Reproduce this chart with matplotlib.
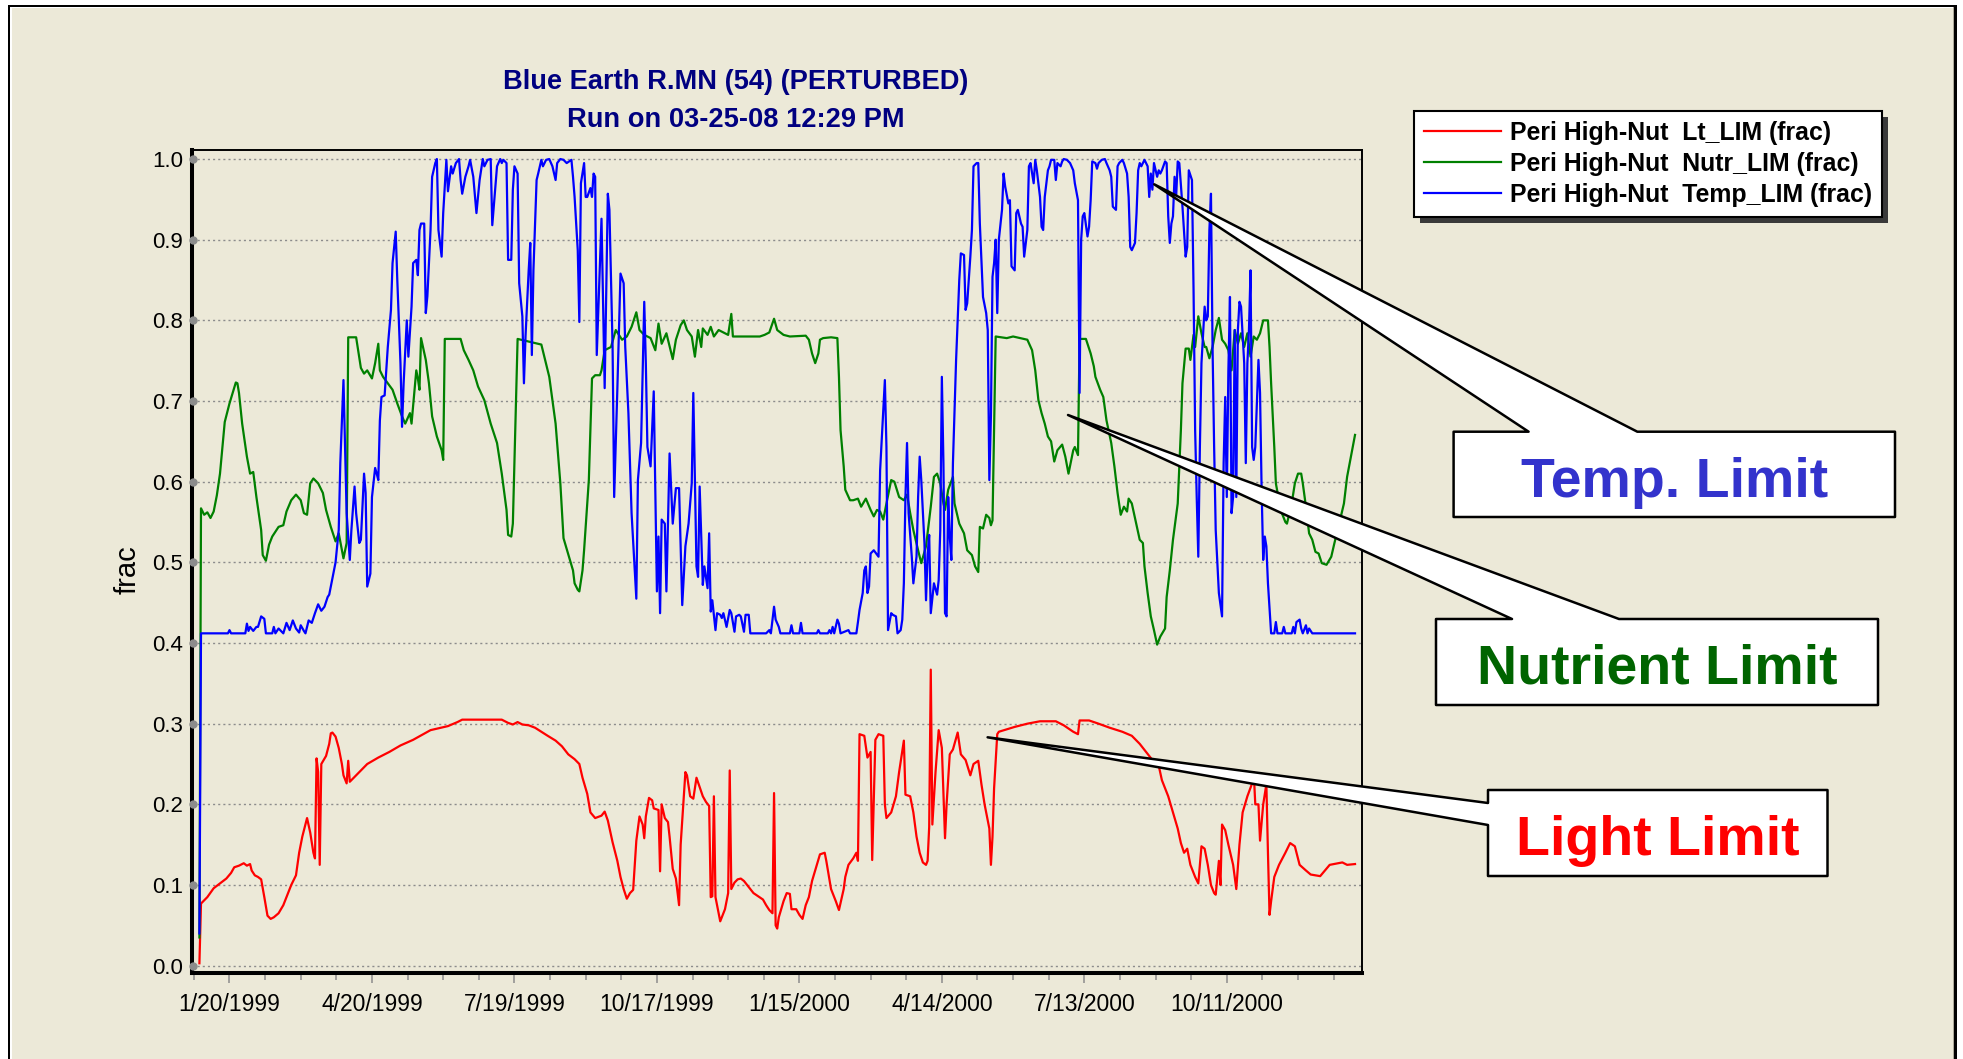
import numpy as np
import matplotlib
matplotlib.use("Agg")
import matplotlib.pyplot as plt
from matplotlib import transforms as mtransforms
from matplotlib.patches import Rectangle, Polygon

# ---------------------------------------------------------------- data
# days counted from 1/1/1999
red_days = [0, 1, 5, 9, 13, 17, 20, 22, 25, 28, 30, 32, 33, 35, 37, 39, 41, 43, 45, 47, 50, 53, 56, 58,
            61, 63, 65, 68, 70, 72, 73, 74, 75, 76, 77, 80, 82, 83, 84, 86, 88, 90, 91, 93, 94, 95, 100,
            106, 113, 120, 127, 135, 146, 157, 163, 166, 191, 195, 198, 201, 204, 208, 212, 216, 220,
            225, 229, 233, 237, 240, 242, 245, 247, 250, 254, 256, 258, 261, 264, 266, 268, 270, 272,
            274, 276, 278, 280, 281, 282, 284, 286, 287, 290, 291, 292, 294, 296, 297, 299, 301, 303,
            304, 307, 308, 310, 312, 314, 318, 320, 322, 323, 324, 325, 326, 329, 332, 334, 335, 336,
            338, 340, 342, 344, 346, 348, 350, 353, 356, 358, 360, 362, 363, 364, 365, 366, 369, 371,
            373, 374, 377, 379, 381, 383, 385, 387, 390, 392, 395, 396, 399, 402, 404, 407, 408, 410,
            413, 415, 416, 417, 420, 422, 424, 425, 427, 429, 432, 433, 434, 437, 440, 442, 445, 446,
            449, 451, 453, 455, 457, 459, 460, 461, 462, 463, 465, 467, 469, 471, 472, 474, 476, 479,
            481, 484, 487, 489, 492, 494, 496, 498, 499, 500, 501, 502, 504, 505, 510, 515, 523, 531,
            541, 546, 552, 555, 556, 562, 568, 575, 583, 589, 594, 598, 602, 606, 608, 612, 615, 618,
            620, 622, 624, 626, 629, 631, 633, 635, 637, 639, 641, 642, 644, 645, 646, 648, 650, 653,
            654, 655, 657, 659, 662, 665, 666, 667, 669, 670, 672, 674, 675, 676, 677, 679, 682, 686,
            689, 692, 695, 699, 702, 708, 711, 714, 722, 725, 730]
red_vals = [0.003, 0.077, 0.085, 0.096, 0.102, 0.108, 0.115, 0.122, 0.124, 0.127, 0.124, 0.126, 0.118,
            0.112, 0.110, 0.107, 0.085, 0.062, 0.058, 0.060, 0.065, 0.075, 0.090, 0.100, 0.112, 0.140,
            0.160, 0.183, 0.165, 0.140, 0.133, 0.257, 0.240, 0.125, 0.250, 0.260, 0.275, 0.288, 0.289,
            0.284, 0.270, 0.250, 0.236, 0.226, 0.254, 0.228, 0.238, 0.250, 0.258, 0.265, 0.273, 0.280,
            0.292, 0.297, 0.302, 0.305, 0.305, 0.301, 0.299, 0.302, 0.299, 0.298, 0.295, 0.290, 0.285,
            0.279, 0.272, 0.262, 0.256, 0.250, 0.233, 0.213, 0.190, 0.183, 0.186, 0.191, 0.180, 0.153,
            0.130, 0.110, 0.095, 0.083, 0.090, 0.094, 0.155, 0.185, 0.175, 0.158, 0.185, 0.208, 0.205,
            0.195, 0.193, 0.117, 0.200, 0.183, 0.178, 0.160, 0.120, 0.108, 0.075, 0.150, 0.240, 0.236,
            0.210, 0.207, 0.233, 0.210, 0.203, 0.198, 0.085, 0.086, 0.210, 0.085, 0.055, 0.070, 0.090,
            0.242, 0.095, 0.103, 0.107, 0.108, 0.105, 0.100, 0.095, 0.090, 0.086, 0.082, 0.075, 0.069,
            0.065, 0.214, 0.050, 0.046, 0.060, 0.080, 0.090, 0.089, 0.070, 0.070, 0.063, 0.058, 0.075,
            0.085, 0.105, 0.125, 0.138, 0.140, 0.130, 0.095, 0.080, 0.069, 0.095, 0.110, 0.125, 0.133,
            0.140, 0.130, 0.287, 0.285, 0.258, 0.265, 0.131, 0.280, 0.287, 0.285, 0.200, 0.183, 0.190,
            0.210, 0.240, 0.279, 0.212, 0.210, 0.190, 0.160, 0.140, 0.128, 0.125, 0.130, 0.172, 0.367,
            0.175, 0.240, 0.292, 0.270, 0.158, 0.200, 0.262, 0.268, 0.289, 0.262, 0.255, 0.236, 0.250,
            0.254, 0.225, 0.200, 0.180, 0.170, 0.125, 0.160, 0.220, 0.287, 0.290, 0.293, 0.296, 0.300,
            0.303, 0.303, 0.298, 0.290, 0.287, 0.304, 0.304, 0.300, 0.295, 0.290, 0.285, 0.275, 0.265,
            0.255, 0.248, 0.230, 0.210, 0.190, 0.170, 0.152, 0.140, 0.145, 0.125, 0.110, 0.102, 0.148,
            0.145, 0.125, 0.100, 0.090, 0.088, 0.130, 0.100, 0.175, 0.168, 0.150, 0.125, 0.110, 0.095,
            0.150, 0.190, 0.210, 0.226, 0.240, 0.200, 0.200, 0.155, 0.200, 0.225, 0.140, 0.063, 0.080,
            0.110, 0.125, 0.140, 0.152, 0.148, 0.125, 0.118, 0.113, 0.111, 0.118, 0.125, 0.128, 0.125,
            0.126]

green_days = [0, 1, 3, 5, 7, 9, 11, 13, 16, 19, 21, 23, 24, 25, 27, 30, 32, 34, 36, 39, 40, 42, 44, 46,
              50, 53, 55, 58, 61, 64, 66, 68, 70, 72, 75, 78, 80, 83, 86, 88, 91, 93, 94, 99, 102, 104,
              106, 109, 111, 113, 114, 116, 119, 122, 125, 128, 130, 133, 134, 137, 138, 139, 140, 143,
              145, 147, 150, 153, 154, 155, 165, 167, 170, 173, 176, 180, 184, 188, 191, 194, 195, 197,
              198, 201, 216, 221, 225, 228, 230, 233, 236, 237, 239, 240, 242, 243, 246, 248, 250, 253,
              254, 256, 260, 263, 267, 270, 273, 276, 278, 281, 285, 288, 290, 292, 295, 299, 301, 304,
              306, 308, 311, 313, 315, 317, 318, 321, 323, 325, 328, 332, 334, 336, 337, 346, 354, 357,
              360, 363, 365, 369, 373, 383, 385, 387, 389, 391, 392, 394, 399, 403, 404, 405, 407, 408,
              411, 413, 416, 418, 421, 424, 426, 428, 430, 432, 434, 437, 439, 442, 445, 447, 449, 451,
              454, 456, 459, 462, 464, 466, 468, 470, 471, 473, 476, 477, 480, 483, 485, 488, 490, 492,
              493, 495, 497, 499, 500, 501, 503, 510, 514, 523, 526, 528, 530, 532, 534, 536, 538, 540,
              542, 545, 547, 549, 552, 553, 555, 556, 560, 563, 565, 566, 569, 571, 573, 576, 578, 580,
              582, 584, 586, 587, 589, 591, 594, 596, 597, 599, 601, 603, 605, 607, 610, 611, 613, 615,
              618, 620, 621, 623, 625, 626, 628, 629, 631, 633, 635, 636, 638, 640, 642, 644, 646, 648,
              650, 652, 654, 656, 658, 660, 662, 664, 666, 668, 670, 672, 675, 676, 677, 679, 680, 683,
              686, 687, 690, 692, 694, 696, 697, 699, 701, 703, 705, 707, 709, 712, 715, 717, 720, 723,
              725, 727, 730]
green_vals = [0.035, 0.567, 0.559, 0.562, 0.555, 0.563, 0.583, 0.610, 0.674, 0.697, 0.710, 0.723, 0.722,
              0.710, 0.672, 0.631, 0.610, 0.612, 0.581, 0.540, 0.509, 0.502, 0.522, 0.532, 0.544, 0.546,
              0.563, 0.577, 0.584, 0.577, 0.561, 0.559, 0.598, 0.604, 0.598, 0.586, 0.565, 0.544, 0.526,
              0.536, 0.505, 0.524, 0.779, 0.779, 0.741, 0.734, 0.738, 0.728, 0.747, 0.771, 0.738, 0.730,
              0.722, 0.714, 0.697, 0.681, 0.672, 0.685, 0.672, 0.738, 0.728, 0.714, 0.778, 0.751, 0.722,
              0.681, 0.656, 0.639, 0.627, 0.777, 0.777, 0.763, 0.751, 0.738, 0.718, 0.701, 0.672, 0.648,
              0.610, 0.565, 0.534, 0.532, 0.548, 0.777, 0.770, 0.730, 0.672, 0.598, 0.530, 0.510, 0.490,
              0.474, 0.466, 0.464, 0.490, 0.515, 0.602, 0.728, 0.732, 0.732, 0.738, 0.763, 0.767, 0.788,
              0.776, 0.780, 0.792, 0.810, 0.788, 0.782, 0.778, 0.763, 0.796, 0.771, 0.784, 0.752, 0.776,
              0.794, 0.800, 0.788, 0.780, 0.755, 0.788, 0.767, 0.790, 0.782, 0.792, 0.780, 0.788, 0.784,
              0.782, 0.808, 0.780, 0.780, 0.780, 0.782, 0.785, 0.802, 0.788, 0.782, 0.780, 0.781, 0.776,
              0.759, 0.747, 0.759, 0.776, 0.778, 0.779, 0.778, 0.730, 0.664, 0.619, 0.590, 0.577, 0.577,
              0.579, 0.569, 0.579, 0.565, 0.557, 0.565, 0.563, 0.553, 0.573, 0.602, 0.600, 0.581, 0.577,
              0.584, 0.561, 0.540, 0.515, 0.499, 0.520, 0.569, 0.606, 0.610, 0.598, 0.573, 0.565, 0.590,
              0.606, 0.573, 0.548, 0.536, 0.515, 0.509, 0.495, 0.488, 0.544, 0.542, 0.559, 0.555, 0.546,
              0.552, 0.780, 0.778, 0.780, 0.776, 0.763, 0.738, 0.701, 0.685, 0.672, 0.656, 0.650, 0.625,
              0.639, 0.646, 0.631, 0.610, 0.639, 0.643, 0.633, 0.777, 0.777, 0.759, 0.743, 0.730, 0.714,
              0.705, 0.676, 0.648, 0.619, 0.586, 0.559, 0.569, 0.563, 0.579, 0.573, 0.555, 0.528, 0.524,
              0.495, 0.462, 0.433, 0.416, 0.398, 0.408, 0.418, 0.457, 0.490, 0.528, 0.573, 0.664, 0.722,
              0.765, 0.765, 0.751, 0.782, 0.767, 0.805, 0.784, 0.767, 0.767, 0.753, 0.767, 0.788, 0.803,
              0.776, 0.771, 0.763, 0.738, 0.788, 0.771, 0.784, 0.767, 0.784, 0.755, 0.780, 0.776, 0.784,
              0.800, 0.800, 0.767, 0.722, 0.643, 0.598, 0.565, 0.550, 0.548, 0.573, 0.598, 0.610, 0.610,
              0.598, 0.569, 0.536, 0.528, 0.513, 0.511, 0.499, 0.497, 0.507, 0.524, 0.548, 0.573, 0.606,
              0.627, 0.658]

blue_days = [0, 1, 18, 19, 20, 29, 30, 31, 32, 34, 36, 37, 39, 41, 42, 46, 47, 48, 50, 51, 53, 55, 57, 59,
             61, 63, 64, 66, 67, 69, 71, 73, 75, 77, 79, 81, 82, 84, 86, 88, 89, 91, 92, 93, 95, 96, 98,
             99, 101, 102, 104, 105, 106, 108, 109, 111, 112, 113, 114, 115, 117, 119, 121, 122, 124,
             125, 127, 128, 129, 131, 132, 134, 135, 137, 138, 139, 140, 142, 143, 144, 146, 147, 149,
             150, 151, 153, 154, 156, 157, 159, 160, 162, 164, 165, 166, 168, 170, 171, 173, 175, 177,
             179, 180, 182, 184, 185, 187, 188, 190, 191, 192, 194, 195, 197, 198, 199, 201, 202, 204,
             205, 206, 208, 209, 210, 211, 213, 214, 216, 217, 219, 221, 223, 225, 226, 228, 230, 232,
             235, 236, 237, 239, 240, 241, 243, 244, 245, 247, 248, 249, 250, 251, 254, 256, 258, 259,
             261, 262, 264, 266, 268, 269, 271, 273, 276, 277, 279, 281, 282, 283, 285, 287, 289, 290,
             291, 292, 294, 295, 297, 299, 301, 303, 305, 307, 309, 311, 312, 314, 315, 316, 318, 319,
             321, 322, 323, 324, 326, 327, 329, 330, 331, 333, 335, 336, 338, 339, 341, 342, 344, 345,
             347, 348, 358, 360, 361, 363, 364, 366, 367, 373, 374, 375, 379, 380, 381, 390, 391, 392,
             397, 398, 399, 400, 401, 403, 404, 405, 410, 411, 415, 416, 417, 419, 420, 421, 422, 423,
             424, 426, 429, 430, 432, 433, 434, 435, 437, 438, 440, 441, 443, 444, 445, 446, 447, 448,
             450, 451, 453, 454, 455, 456, 458, 459, 460, 461, 462, 464, 466, 467, 468, 469, 470, 471,
             472, 473, 474, 475, 476, 478, 480, 481, 483, 484, 485, 487, 488, 489, 491, 492, 493, 495,
             497, 498, 499, 500, 501, 502, 503, 504, 505, 507, 508, 509, 511, 512, 513, 515, 516, 517,
             519, 520, 521, 523, 524, 525, 527, 528, 529, 531, 532, 533, 534, 536, 537, 538, 540, 541,
             542, 544, 545, 546, 548, 550, 552, 553, 555, 556, 557, 558, 559, 561, 562, 563, 564, 566,
             567, 568, 570, 572, 573, 575, 576, 577, 579, 580, 581, 583, 584, 586, 587, 588, 589, 591,
             592, 593, 594, 595, 597, 598, 599, 600, 601, 602, 603, 605, 606, 607, 608, 610, 611, 612,
             613, 614, 615, 616, 617, 618, 619, 621, 623, 624, 625, 627, 628, 629, 630, 631, 632, 633,
             635, 636, 637, 638, 639, 640, 641, 642, 644, 646, 647, 648, 649, 650, 651, 652, 653, 654,
             655, 656, 657, 658, 660, 661, 662, 663, 664, 665, 666, 667, 669, 670, 671, 672, 673, 674,
             675, 677, 679, 680, 681, 684, 685, 686, 690, 691, 692, 693, 695, 696, 697, 699, 700, 701,
             703, 730]
blue_vals = [0.040, 0.412, 0.412, 0.416, 0.412, 0.412, 0.424, 0.415, 0.420, 0.415, 0.420, 0.420, 0.433,
             0.430, 0.412, 0.412, 0.420, 0.412, 0.418, 0.416, 0.412, 0.425, 0.416, 0.428, 0.418, 0.413,
             0.422, 0.415, 0.412, 0.428, 0.425, 0.437, 0.448, 0.440, 0.445, 0.457, 0.460, 0.480, 0.500,
             0.540, 0.623, 0.726, 0.643, 0.561, 0.503, 0.540, 0.594, 0.561, 0.524, 0.528, 0.610, 0.586,
             0.470, 0.486, 0.581, 0.617, 0.610, 0.602, 0.676, 0.705, 0.707, 0.767, 0.813, 0.871, 0.910,
             0.850, 0.747, 0.668, 0.722, 0.800, 0.755, 0.817, 0.871, 0.875, 0.856, 0.912, 0.920, 0.920,
             0.809, 0.830, 0.912, 0.978, 0.995, 1.000, 0.912, 0.879, 0.933, 0.999, 0.960, 0.991, 0.982,
             0.995, 1.000, 0.974, 0.957, 0.978, 0.991, 0.999, 0.978, 0.933, 0.974, 1.000, 0.991, 0.999,
             1.000, 0.918, 0.966, 0.991, 1.000, 0.995, 0.999, 0.995, 0.875, 0.875, 0.962, 0.991, 0.982,
             0.846, 0.805, 0.722, 0.780, 0.862, 0.896, 0.757, 0.862, 0.974, 0.982, 0.999, 0.991, 0.999,
             1.000, 0.991, 0.974, 0.995, 1.000, 0.999, 0.995, 0.999, 0.978, 0.953, 0.887, 0.798, 0.970,
             0.995, 0.953, 0.953, 0.964, 0.953, 0.982, 0.978, 0.757, 0.926, 0.716, 0.957, 0.937, 0.767,
             0.581, 0.714, 0.858, 0.846, 0.767, 0.685, 0.561, 0.455, 0.602, 0.648, 0.823, 0.747, 0.643,
             0.619, 0.712, 0.464, 0.532, 0.437, 0.553, 0.548, 0.464, 0.635, 0.548, 0.592, 0.592, 0.447,
             0.520, 0.548, 0.598, 0.710, 0.495, 0.482, 0.594, 0.472, 0.495, 0.468, 0.536, 0.439, 0.453,
             0.416, 0.437, 0.435, 0.431, 0.437, 0.420, 0.441, 0.437, 0.414, 0.433, 0.435, 0.433, 0.414,
             0.435, 0.435, 0.412, 0.412, 0.416, 0.412, 0.445, 0.429, 0.420, 0.412, 0.412, 0.422, 0.412,
             0.412, 0.425, 0.412, 0.412, 0.416, 0.412, 0.412, 0.416, 0.412, 0.420, 0.412, 0.429, 0.424,
             0.412, 0.416, 0.412, 0.412, 0.426, 0.441, 0.462, 0.490, 0.495, 0.462, 0.470, 0.511, 0.515,
             0.507, 0.614, 0.689, 0.726, 0.643, 0.416, 0.437, 0.435, 0.433, 0.412, 0.416, 0.429, 0.474,
             0.581, 0.648, 0.561, 0.507, 0.474, 0.507, 0.581, 0.631, 0.602, 0.524, 0.453, 0.510, 0.534,
             0.437, 0.474, 0.460, 0.478, 0.540, 0.730, 0.623, 0.437, 0.433, 0.581, 0.532, 0.503, 0.623,
             0.751, 0.850, 0.883, 0.881, 0.813, 0.821, 0.879, 0.912, 0.991, 0.995, 0.995, 0.920, 0.829,
             0.809, 0.788, 0.602, 0.681, 0.854, 0.871, 0.900, 0.809, 0.900, 0.937, 0.982, 0.966, 0.945,
             0.949, 0.867, 0.862, 0.933, 0.937, 0.920, 0.916, 0.879, 0.912, 0.991, 0.995, 0.970, 0.999,
             0.986, 0.953, 0.916, 0.912, 0.953, 0.986, 0.991, 0.999, 0.999, 0.974, 0.995, 0.991, 0.997,
             1.000, 0.999, 0.995, 0.986, 0.970, 0.949, 0.710, 0.900, 0.929, 0.933, 0.904, 0.916, 0.949,
             0.997, 0.995, 0.988, 0.995, 0.999, 1.000, 0.995, 0.986, 0.978, 0.941, 0.937, 0.991, 0.995,
             0.999, 0.995, 0.982, 0.953, 0.891, 0.887, 0.896, 0.933, 0.986, 0.995, 0.991, 0.999, 0.995,
             0.991, 0.953, 0.982, 0.962, 0.995, 0.978, 0.986, 0.982, 0.986, 0.997, 0.995, 0.929, 0.896,
             0.920, 0.929, 0.978, 0.953, 0.997, 0.995, 0.941, 0.879, 0.891, 0.986, 0.974, 0.838, 0.664,
             0.581, 0.507, 0.643, 0.747, 0.817, 0.800, 0.805, 0.912, 0.957, 0.767, 0.643, 0.540, 0.462,
             0.433, 0.623, 0.705, 0.581, 0.738, 0.829, 0.561, 0.581, 0.788, 0.581, 0.788, 0.823, 0.817,
             0.747, 0.623, 0.747, 0.788, 0.862, 0.643, 0.627, 0.643, 0.751, 0.710, 0.590, 0.503, 0.532,
             0.520, 0.474, 0.412, 0.412, 0.426, 0.412, 0.412, 0.420, 0.412, 0.412, 0.420, 0.412, 0.426,
             0.429, 0.418, 0.412, 0.422, 0.412, 0.418, 0.412, 0.412]

legend_labels = ["Peri High-Nut  Lt_LIM (frac)",
                 "Peri High-Nut  Nutr_LIM (frac)",
                 "Peri High-Nut  Temp_LIM (frac)"]
xtick_days = [19, 109, 199, 289, 379, 469, 559, 649]
xtick_labels = ["1/20/1999", "4/20/1999", "7/19/1999", "10/17/1999",
                "1/15/2000", "4/14/2000", "7/13/2000", "10/11/2000"]
ytick_vals = [0.0, 0.1, 0.2, 0.3, 0.4, 0.5, 0.6, 0.7, 0.8, 0.9, 1.0]
ytick_labels = ["0.0", "0.1", "0.2", "0.3", "0.4", "0.5", "0.6", "0.7", "0.8", "0.9", "1.0"]
title_lines = ["Blue Earth R.MN (54) (PERTURBED)", "Run on 03-25-08 12:29 PM"]

# ---------------------------------------------------------------- figure
W, H = 1963, 1059
plt.rcParams['font.family'] = ['Liberation Sans', 'DejaVu Sans']

fig = plt.figure(figsize=(W / 100, H / 100), dpi=100, facecolor='white')
# pixel coordinates measured from the top-left corner of the figure
PX = mtransforms.Affine2D().scale(1 / W, -1 / H).translate(0, 1) + fig.transFigure

PANEL = '#ECE9D8'


def px_rect(x, y, w, h, color, z=-5):
    fig.add_artist(Rectangle((x, y), w, h, transform=PX, facecolor=color,
                             edgecolor='none', zorder=z))


# window-style panel with a bevelled border
px_rect(8, 5, 1949, 1100, PANEL)
px_rect(8, 5, 2, 1100, 'black', -4)
px_rect(8, 5, 1949, 1.5, 'black', -4)
px_rect(10, 6.5, 2, 1100, 'white', -4)
px_rect(10, 6.5, 1943, 1.5, 'white', -4)
px_rect(1952.7, 6.5, 1.5, 1100, '#ACA899', -4)
px_rect(1954.2, 5, 2.5, 1100, 'black', -4)

# ---------------------------------------------------------------- axes
ax_l, ax_r, ax_t, ax_b = 191.5, 1362.3, 150.0, 972.7
ax = fig.add_axes([ax_l / W, 1 - ax_b / H, (ax_r - ax_l) / W, (ax_b - ax_t) / H])
ax.set_facecolor('none')
x0, x1 = -5.0, 734.6
ax.set_xlim(x0, x1)
ax.set_ylim(-0.0087, 1.0112)

l_red, = ax.plot(red_days, red_vals, color='#FF0000', lw=1.6, zorder=3)
l_green, = ax.plot(green_days, green_vals, color='#008000', lw=1.6, zorder=3)
l_blue, = ax.plot(blue_days, blue_vals, color='#0000FF', lw=1.6, zorder=3)

ax.set_yticks(ytick_vals)
ax.set_yticklabels(ytick_labels)
ax.yaxis.grid(True, color='#8c8c8c', linestyle=(0, (1.5, 2.2)), lw=1.0)
ax.set_axisbelow(True)
ax.tick_params(axis='y', length=0, pad=6.3, labelsize=16)
# grey dots where the grid lines meet the y axis
ax.plot(np.full(len(ytick_vals), x0 + 1.2), ytick_vals, 'o', ms=5, color='#8c8c8c',
        clip_on=False, zorder=4)

ax.set_xticks(xtick_days)
ax.set_xticklabels(xtick_labels)
ax.set_xticks([19 + 22.5 * k for k in range(-1, 32) if 19 + 22.5 * k < x1], minor=True)
ax.tick_params(axis='x', which='major', length=7.4, width=1.1, color='#8c8c8c',
               pad=7, labelsize=16.5)
ax.tick_params(axis='x', which='minor', length=5.3, width=1.1, color='#8c8c8c')

for side in ('left', 'bottom'):
    ax.spines[side].set_linewidth(2.9)
for side in ('top', 'right'):
    ax.spines[side].set_linewidth(1.4)

ax.set_ylabel('frac', fontsize=21)
ax.yaxis.set_label_coords((142 - ax_l) / (ax_r - ax_l), 0.49)

# ---------------------------------------------------------------- title
fig.text(736, 89.3, title_lines[0], transform=PX, ha='center', va='baseline',
         fontsize=19.6, weight='bold', color='#000080')
fig.text(736, 126.7, title_lines[1], transform=PX, ha='center', va='baseline',
         fontsize=19.6, weight='bold', color='#000080')

# ---------------------------------------------------------------- legend
leg = fig.legend([l_red, l_green, l_blue], legend_labels, loc='upper left',
                 bbox_to_anchor=(1414 / W, 1 - 110.7 / H), bbox_transform=fig.transFigure,
                 borderaxespad=0, frameon=True, fancybox=False, edgecolor='black',
                 facecolor='white', framealpha=1, prop={'weight': 'bold', 'size': 17.9},
                 handlelength=3.1, handletextpad=0.37, borderpad=0.4, labelspacing=0.28)
leg.get_frame().set_linewidth(1.5)
for h in leg.get_lines():
    h.set_linewidth(1.6)

# ---------------------------------------------------------------- callouts
callouts = [
    ([(1453.6, 431.7), (1528.6, 431.7), (1154.2, 184.3), (1637.3, 431.7),
      (1895, 431.7), (1895, 517), (1453.6, 517)],
     (1674.3, 496.7), 'Temp. Limit', '#3333CC'),
    ([(1436, 619), (1512, 619), (1068, 415), (1619, 619),
      (1878, 619), (1878, 705), (1436, 705)],
     (1657.0, 684.0), 'Nutrient Limit', '#006400'),
    ([(1488, 790), (1827.5, 790), (1827.5, 876), (1488, 876), (1488, 825),
      (987.6, 737.3), (1488, 803)],
     (1658.0, 855.0), 'Light Limit', '#FF0000'),
]
for poly, (tx, ty), txt, col in callouts:
    fig.add_artist(Polygon(poly, closed=True, transform=PX, facecolor='white',
                           edgecolor='black', lw=1.8, joinstyle='round', zorder=6))
    fig.text(tx, ty, txt, transform=PX, ha='center', va='baseline', fontsize=40,
             weight='bold', color=col, zorder=7)

# legend drop shadow
fig.canvas.draw()
bb = leg.get_window_extent()
fig.add_artist(Rectangle((bb.x0 + 6, bb.y0 - 6), bb.width, bb.height,
                         transform=mtransforms.IdentityTransform(),
                         facecolor='#3a3a3a', edgecolor='none', zorder=leg.get_zorder() - 0.5))

fig.savefig('out.png', dpi=100, facecolor=fig.get_facecolor())
